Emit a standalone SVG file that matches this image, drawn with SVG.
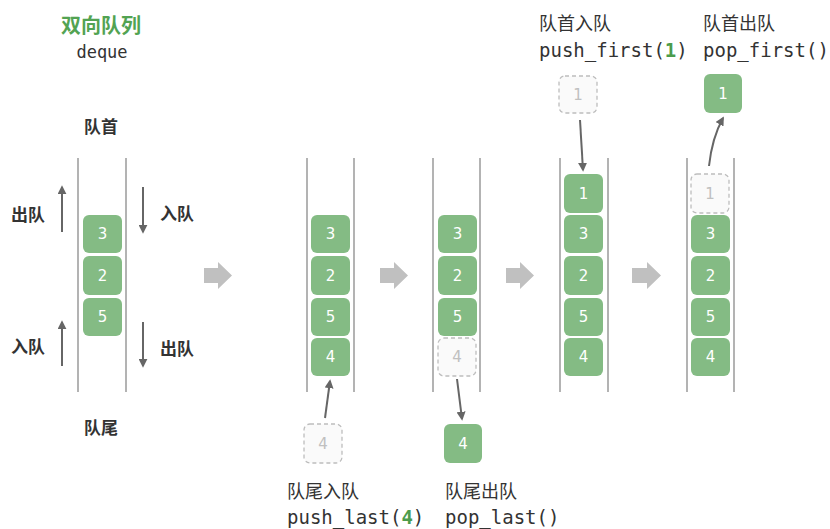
<svg xmlns="http://www.w3.org/2000/svg" width="830" height="529" viewBox="0 0 830 529">
<defs>
<style>
.rail{stroke:#9a9a9a;stroke-width:1.5;fill:none}
.box{fill:#84bb84;}
.boxt{fill:#ffffff;font-family:"DejaVu Sans","Noto Sans",sans-serif;font-size:15px;text-anchor:middle;dominant-baseline:central}
.dbox{fill:#fafafa;stroke:#bdbdbd;stroke-width:1.3;stroke-dasharray:4 3}
.dboxt{fill:#c0c0c0;font-family:"DejaVu Sans","Noto Sans",sans-serif;font-size:15px;text-anchor:middle;dominant-baseline:central}
.lbl{fill:#333;font-family:"Noto Sans CJK SC","Noto Sans",sans-serif;font-size:17px;font-weight:bold;dominant-baseline:central}
.cap{fill:#333;font-family:"Noto Sans CJK SC","Noto Sans",sans-serif;font-size:18px;dominant-baseline:central}
.code{fill:#333;font-family:"DejaVu Sans Mono","Liberation Mono",monospace;font-size:19px;dominant-baseline:central}
.g{fill:#4c9c4c;font-weight:bold}
.arr{stroke:#666;stroke-width:2;fill:none;marker-end:url(#ah)}
.big{fill:#c0c0c0}
</style>
<marker id="ah" viewBox="0 0 10 10" refX="8" refY="5" markerWidth="9" markerHeight="9" markerUnits="userSpaceOnUse" orient="auto">
<path d="M0,0 L10,5 L0,10 z" fill="#666"/>
</marker>
</defs>

<g id="title">
<text x="101" y="24" style="fill:#52a352;font-family:'Noto Sans CJK SC',sans-serif;font-size:20px;font-weight:bold;text-anchor:middle;dominant-baseline:central">双向队列</text>
<text x="102" y="52" style="fill:#333;font-family:'DejaVu Sans Mono',monospace;font-size:17px;text-anchor:middle;dominant-baseline:central">deque</text>
</g>

<g id="stage1">
<line class="rail" x1="78" y1="158" x2="78" y2="392"/>
<line class="rail" x1="126" y1="158" x2="126" y2="392"/>
<text class="lbl" x="101" y="125" text-anchor="middle">队首</text>
<text class="lbl" x="101" y="426" text-anchor="middle">队尾</text>
<text class="lbl" x="11" y="213">出队</text>
<text class="lbl" x="160" y="212">入队</text>
<text class="lbl" x="11" y="345">入队</text>
<text class="lbl" x="160" y="347">出队</text>
<g id="s1b3"><rect class="box" x="83" y="215" width="39" height="38" rx="6"/><text class="boxt" x="102.5" y="234">3</text></g>
<g id="s1b2"><rect class="box" x="83" y="256" width="39" height="39" rx="6"/><text class="boxt" x="102.5" y="275.5">2</text></g>
<g id="s1b5"><rect class="box" x="83" y="298" width="39" height="38" rx="6"/><text class="boxt" x="102.5" y="317">5</text></g>
</g>

<g id="stage2">
<line class="rail" x1="307" y1="158" x2="307" y2="392"/>
<line class="rail" x1="354" y1="158" x2="354" y2="392"/>
<rect class="box" x="311" y="215" width="39" height="38" rx="6"/><text class="boxt" x="330.5" y="234">3</text>
<rect class="box" x="311" y="256" width="39" height="39" rx="6"/><text class="boxt" x="330.5" y="275.5">2</text>
<rect class="box" x="311" y="298" width="39" height="38" rx="6"/><text class="boxt" x="330.5" y="317">5</text>
<rect class="box" x="311" y="338" width="39" height="38" rx="6"/><text class="boxt" x="330.5" y="357">4</text>
<rect class="dbox" x="304" y="424" width="38" height="39" rx="6"/><text class="dboxt" x="323" y="443.5">4</text>
<text class="cap" x="287" y="490">队尾入队</text>
<text class="code" x="287" y="517">push_last(<tspan class="g">4</tspan>)</text>
</g>

<g id="stage3">
<line class="rail" x1="433" y1="158" x2="433" y2="392"/>
<line class="rail" x1="480" y1="158" x2="480" y2="392"/>
<rect class="box" x="438" y="215" width="39" height="38" rx="6"/><text class="boxt" x="457.5" y="234">3</text>
<rect class="box" x="438" y="256" width="39" height="39" rx="6"/><text class="boxt" x="457.5" y="275.5">2</text>
<rect class="box" x="438" y="298" width="39" height="38" rx="6"/><text class="boxt" x="457.5" y="317">5</text>
<rect class="dbox" x="438" y="338" width="38" height="38" rx="6"/><text class="dboxt" x="457" y="357">4</text>
<rect class="box" x="444" y="424" width="38" height="39" rx="6"/><text class="boxt" x="463" y="443.5">4</text>
<text class="cap" x="445" y="490">队尾出队</text>
<text class="code" x="445" y="517">pop_last()</text>
</g>

<g id="stage4">
<line class="rail" x1="560" y1="158" x2="560" y2="392"/>
<line class="rail" x1="608" y1="158" x2="608" y2="392"/>
<rect class="box" x="564" y="174" width="39" height="39" rx="6"/><text class="boxt" x="583.5" y="193.5">1</text>
<rect class="box" x="564" y="215" width="39" height="38" rx="6"/><text class="boxt" x="583.5" y="234">3</text>
<rect class="box" x="564" y="256" width="39" height="39" rx="6"/><text class="boxt" x="583.5" y="275.5">2</text>
<rect class="box" x="564" y="298" width="39" height="38" rx="6"/><text class="boxt" x="583.5" y="317">5</text>
<rect class="box" x="564" y="338" width="39" height="38" rx="6"/><text class="boxt" x="583.5" y="357">4</text>
<rect class="dbox" x="559" y="76" width="38" height="37" rx="6"/><text class="dboxt" x="578" y="94.5">1</text>
<text class="cap" x="539" y="22">队首入队</text>
<text class="code" x="539" y="50">push_first(<tspan class="g">1</tspan>)</text>
</g>

<g id="stage5">
<line class="rail" x1="687" y1="158" x2="687" y2="392"/>
<line class="rail" x1="734" y1="158" x2="734" y2="392"/>
<rect class="dbox" x="691" y="174" width="38" height="39" rx="6"/><text class="dboxt" x="710" y="193.5">1</text>
<rect class="box" x="691" y="215" width="39" height="38" rx="6"/><text class="boxt" x="710.5" y="234">3</text>
<rect class="box" x="691" y="256" width="39" height="39" rx="6"/><text class="boxt" x="710.5" y="275.5">2</text>
<rect class="box" x="691" y="298" width="39" height="38" rx="6"/><text class="boxt" x="710.5" y="317">5</text>
<rect class="box" x="691" y="338" width="39" height="38" rx="6"/><text class="boxt" x="710.5" y="357">4</text>
<rect class="box" x="704" y="74" width="38" height="39" rx="6"/><text class="boxt" x="723" y="93.5">1</text>
<text class="cap" x="703" y="22">队首出队</text>
<text class="code" x="703" y="50">pop_first()</text>
</g>

<g id="connectors">
<line class="arr" x1="62" y1="232" x2="62" y2="187"/>
<line class="arr" x1="143" y1="187" x2="143" y2="232"/>
<line class="arr" x1="62" y1="366" x2="62" y2="322"/>
<line class="arr" x1="143" y1="322" x2="143" y2="366"/>
<line class="arr" x1="325" y1="418" x2="330" y2="381"/>
<line class="arr" x1="457" y1="379" x2="462" y2="419"/>
<line class="arr" x1="580" y1="120" x2="583" y2="170"/>
<path class="arr" d="M709,166 Q712,138 723,118"/>
<path class="big" d="M204,268 H218 V262 L232,275.5 L218,289 V283 H204 z"/>
<path class="big" d="M380,268 H394 V262 L408,275.5 L394,289 V283 H380 z"/>
<path class="big" d="M506,268 H520 V262 L534,275.5 L520,289 V283 H506 z"/>
<path class="big" d="M632,268 H647 V262 L661,275.5 L647,289 V283 H632 z"/>
</g>
</svg>
